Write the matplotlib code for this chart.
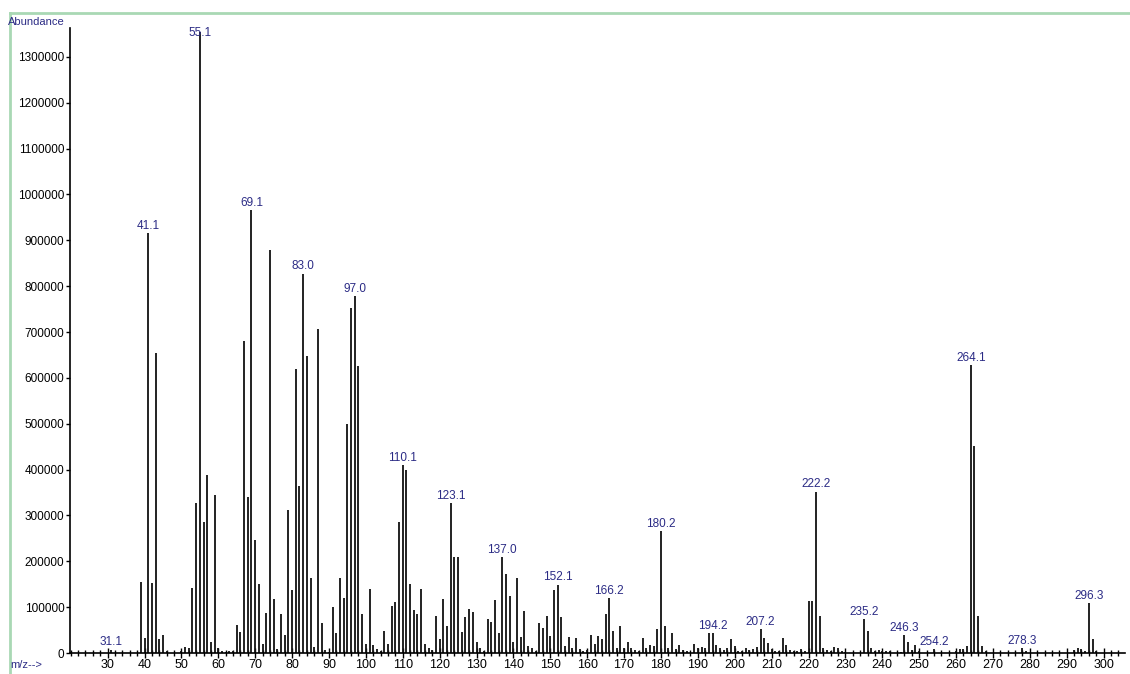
import matplotlib
matplotlib.use("Agg")
import matplotlib.pyplot as plt
from matplotlib.lines import Line2D
from matplotlib.ticker import MultipleLocator

plt.rcParams['font.family'] = ['Liberation Sans', 'DejaVu Sans']

# m/z values and their abundances
mz = [31, 39, 40, 41, 42, 43, 44, 45, 46, 50, 51, 52, 53, 54, 55, 56, 57, 58, 59, 60,
      61, 62, 63, 64, 65, 66, 67, 68, 69, 70, 71, 72, 73, 74, 75, 76, 77, 78, 79, 80,
      81, 82, 83, 84, 85, 86, 87, 88, 89, 90, 91, 92, 93, 94, 95, 96, 97, 98, 99, 100,
      101, 102, 103, 104, 105, 106, 107, 108, 109, 110, 111, 112, 113, 114, 115, 116, 117, 118, 119, 120,
      121, 122, 123, 124, 125, 126, 127, 128, 129, 130, 131, 132, 133, 134, 135, 136, 137, 138, 139, 140,
      141, 142, 143, 144, 145, 146, 147, 148, 149, 150, 151, 152, 153, 154, 155, 156, 157, 158, 159, 160,
      161, 162, 163, 164, 165, 166, 167, 168, 169, 170, 171, 172, 173, 174, 175, 176, 177, 178, 179, 180,
      181, 182, 183, 184, 185, 186, 187, 189, 190, 191, 192, 193, 194, 195, 196, 197, 198, 199, 200,
      201, 202, 203, 204, 205, 206, 207, 208, 209, 210, 211, 212, 213, 214, 215, 216, 217, 218, 219, 220,
      221, 222, 223, 224, 225, 226, 227, 228, 229, 230, 235, 236, 237, 238, 239, 240,
      241, 242, 245, 246, 247, 248, 249, 250, 254, 260, 261, 262, 263, 264, 265, 266, 267, 268,
      278, 279, 292, 293, 294, 295, 296, 297, 298]

abundance = [7000, 155000, 33000, 915000, 152000, 655000, 30000, 39000, 4000, 5000, 14000, 10000, 141000, 327000, 1355000, 285000, 389000, 23000, 345000, 10000,
             4000, 3000, 5000, 4000, 61000, 46000, 680000, 340000, 966000, 247000, 150000, 20000, 87000, 879000, 118000, 9000, 84000, 40000, 311000, 137000,
             620000, 364000, 827000, 647000, 163000, 14000, 707000, 65000, 7000, 3000, 100000, 44000, 163000, 121000, 500000, 752000, 778000, 625000, 86000, 20000,
             140000, 17000, 9000, 4000, 49000, 20000, 102000, 112000, 285000, 410000, 398000, 150000, 94000, 86000, 140000, 20000, 11000, 6500, 80000, 30000,
             118000, 58000, 327000, 209000, 209000, 45000, 78000, 96000, 90000, 23000, 11000, 5000, 74000, 67000, 116000, 43000, 209000, 172000, 125000, 23000,
             163000, 34000, 91000, 14500, 10000, 5000, 65000, 54000, 81000, 38000, 138000, 149000, 79000, 16000, 35000, 11000, 33000, 8700, 5000, 7000,
             39000, 20000, 36000, 30000, 86000, 119000, 47000, 10000, 58000, 11000, 23000, 10000, 6500, 5000, 33000, 10000, 17500, 14500, 52000, 265000,
             58000, 10000, 43000, 8700, 17500, 6500, 5000, 20000, 10000, 14000, 10000, 43000, 43000, 17500, 10000, 6500, 11000, 30000, 14500,
             5000, 4000, 10000, 6500, 8700, 12000, 52000, 33000, 21000, 8700, 5000, 4000, 33500, 17500, 6500, 4000, 5000, 8000, 5000, 113000,
             113000, 352000, 81000, 10000, 6500, 5000, 12000, 11000, 5000, 3000, 74000, 49000, 10000, 5000, 7000, 4000,
             5000, 4000, 3000, 39000, 23000, 7000, 17500, 5000, 8000, 5000, 8000, 8700, 16000, 628000, 452000, 80000, 14500, 5000,
             10000, 4000, 7000, 10000, 8000, 4000, 108000, 30500, 5000]

label_mz = [31, 41, 55, 69, 83, 97, 110, 123, 137, 152, 166, 180, 194, 207, 222, 235, 246, 254, 264, 278, 296]
label_text = ["31.1", "41.1", "55.1", "69.1", "83.0", "97.0", "110.1", "123.1", "137.0", "152.1", "166.2",
              "180.2", "194.2", "207.2", "222.2", "235.2", "246.3", "254.2", "264.1", "278.3", "296.3"]

label_color = "#2b2b85"
height_of = dict(zip(mz, abundance))

fig = plt.figure(figsize=(11.3, 6.74), dpi=100)
ax = fig.add_axes([70 / 1130, 21 / 674, 1055 / 1130, 625 / 674])

ax.vlines(mz, 0, abundance, colors="#111111", linewidth=1.3)

for m, t in zip(label_mz, label_text):
    y = min(height_of[m], 1335000)
    ax.annotate(t, (m, y), xytext=(0, 1), textcoords="offset points",
                ha="center", va="bottom", fontsize=8.5, color=label_color)

ax.set_xlim(19.8, 305.8)
ax.set_ylim(0, 1363000)

ax.spines['top'].set_visible(False)
ax.spines['right'].set_visible(False)
ax.spines['left'].set_linewidth(1.2)
ax.spines['bottom'].set_linewidth(1.2)

ax.xaxis.set_major_locator(MultipleLocator(10))
ax.xaxis.set_minor_locator(MultipleLocator(2))
ax.set_xticks(range(30, 301, 10))
ax.set_yticks(range(0, 1300001, 100000))
ax.set_yticklabels([str(v) for v in range(0, 1300001, 100000)])
ax.tick_params(axis='x', which='major', direction='inout', length=7, width=1, labelsize=9, pad=1)
ax.tick_params(axis='x', which='minor', direction='inout', length=5, width=1)
ax.tick_params(axis='y', direction='out', length=3, width=1, labelsize=8.5, pad=1)

# window frame and captions of the instrument printout
fig.add_artist(Line2D([10 / 1130, 1], [1 - 13 / 674, 1 - 13 / 674], color="#a9d8b4", linewidth=2))
fig.add_artist(Line2D([10 / 1130, 10 / 1130], [0, 1 - 13 / 674], color="#a9d8b4", linewidth=2))
fig.text(8 / 1130, 1 - 22 / 674, "Abundance", fontsize=8, color=label_color, va="center", ha="left")
fig.text(10 / 1130, 1 - 665 / 674, "m/z-->", fontsize=8, color=label_color, va="center", ha="left")

fig.savefig("out.png", dpi=100)
plt.close(fig)
